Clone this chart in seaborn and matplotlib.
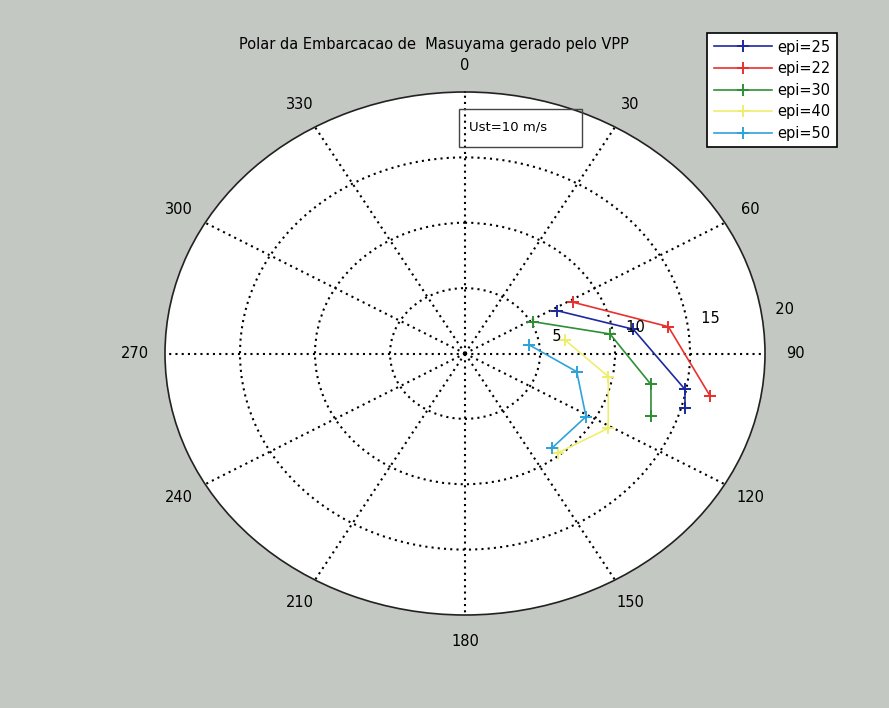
import numpy as np
import pandas as pd
import matplotlib
matplotlib.use("Agg")
import matplotlib.pyplot as plt
from matplotlib.patches import Rectangle
import seaborn as sns

# Boat speed polar (m/s) versus true wind angle (deg), one curve per heel setting
series_labels = ["epi=25", "epi=22", "epi=30", "epi=40", "epi=50"]
series_colors = ["#1c2a9e", "#e8312d", "#2f8f35", "#eeee6e", "#2fa3d9"]

angle_epi25 = [62.0, 80.6, 100.6, 105.9]
speed_epi25 = [6.97, 11.37, 14.92, 15.25]

angle_epi22 = [61.5, 81.4, 101.2]
speed_epi22 = [8.21, 13.71, 16.65]

angle_epi30 = [61.9, 81.2, 100.8, 111.1]
speed_epi30 = [5.16, 9.78, 12.62, 13.29]

angle_epi40 = [81.2, 100.5, 120.9, 140.6]
speed_epi40 = [6.75, 9.72, 11.13, 9.81]

angle_epi50 = [81.4, 100.6, 120.9, 141.4]
speed_epi50 = [4.34, 7.58, 9.40, 9.27]

ring_values = [5, 10, 15, 20]
spoke_angles = list(range(0, 360, 30))

title_text = "Polar da Embarcacao de  Masuyama gerado pelo VPP"
note_text = "Ust=10 m/s"

angles = [angle_epi25, angle_epi22, angle_epi30, angle_epi40, angle_epi50]
speeds = [speed_epi25, speed_epi22, speed_epi30, speed_epi40, speed_epi50]

rows = []
for lab, a, s in zip(series_labels, angles, speeds):
    for order, (ai, si) in enumerate(zip(a, s)):
        rows.append({"serie": lab, "ordem": order, "theta": np.deg2rad(ai), "r": si})
df = pd.DataFrame(rows)

plt.rcParams["font.family"] = ["DejaVu Sans"]
bg = "#c4c8c3"

fig = plt.figure(figsize=(8.89, 7.08), dpi=100, facecolor=bg)
W, H = 889, 708
ax = fig.add_axes([165 / W, 1 - 615 / H, 600 / W, 523 / H], projection="polar")
ax.set_aspect("auto")
ax.set_facecolor("white")
ax.set_theta_zero_location("N")
ax.set_theta_direction(-1)
rmax = ring_values[-1]
ax.set_ylim(0, rmax)

ax.set_xticks(np.deg2rad(spoke_angles))
ax.set_xticklabels([])
ax.set_yticks(ring_values[:-1])
ax.set_yticklabels([])
ax.tick_params(length=0)
ax.grid(True, color="black", linestyle=(0, (1, 2)), linewidth=1.5)
ax.spines["polar"].set_linewidth(1.2)
ax.spines["polar"].set_color("#222222")

for lab, col in zip(series_labels, series_colors):
    sub = df[df["serie"] == lab]
    sns.lineplot(data=sub, x="theta", y="r", ax=ax, sort=False, estimator=None,
                 color=col, linewidth=1.2, marker="+", markersize=8,
                 markeredgewidth=1.4, markeredgecolor=col, label=lab)
ax.set_xlabel("")
ax.set_ylabel("")

# angle labels around the rim
for a in spoke_angles:
    ax.text(np.deg2rad(a), 1.1 * rmax, str(a), ha="center", va="center",
            fontsize=10.5, clip_on=False)

# ring labels along the 82 degree direction
for rv in ring_values:
    ax.text(np.deg2rad(82), rv + rmax / 80, "  " + str(rv), ha="left", va="bottom",
            fontsize=10.5, clip_on=False)

fig.text(434 / W, 1 - 45 / H, title_text, ha="center", va="center", fontsize=10.5)

# annotation box
fig.patches.append(Rectangle((459 / W, 1 - 147 / H), 123 / W, 38 / H,
                             transform=fig.transFigure, fill=False,
                             edgecolor="#444444", linewidth=1.0))
fig.text(469 / W, 1 - 127 / H, note_text, ha="left", va="center", fontsize=9.5)

handles, labels = ax.get_legend_handles_labels()
leg = ax.legend(handles, labels, loc="upper right",
                bbox_to_anchor=(837 / W, 1 - 33 / H), bbox_transform=fig.transFigure,
                fancybox=False, framealpha=1, edgecolor="black", facecolor="white",
                fontsize=10.5, handlelength=4.0, handletextpad=0.35,
                labelspacing=0.45, borderpad=0.45, borderaxespad=0)
leg.get_frame().set_linewidth(1.2)

fig.savefig("out.png", dpi=100, facecolor=bg)
